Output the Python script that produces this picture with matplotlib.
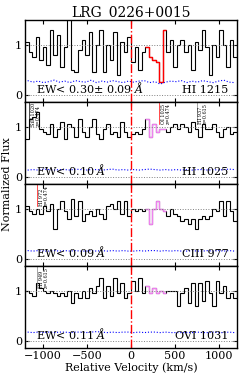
import numpy as np
import matplotlib.pyplot as plt

plt.rcParams['font.family'] = 'DejaVu Serif'
plt.rcParams['mathtext.fontset'] = 'dejavuserif'

# velocity bins (km/s)
edges = np.arange(-1200, 1201, 40)

flux_hi1215 = [1.05, 0.85, 0.75, 1.15, 0.7, 0.95, 0.6, 1.3, 0.8, 1.2,
               0.55, 0.95, 1.55, 0.5, 0.45, 0.9, 1.1, 0.8, 1.25, 0.45,
               1.0, 1.3, 0.45, 1.0, 0.7, 1.25, 0.4, 1.05, 0.85, 1.15,
               0.65, 0.95, 0.5, 0.85, 0.95, 0.75, 0.7, 0.65, 0.25, 1.3,
               0.85, 1.1, 0.55, 1.0, 1.1, 0.85, 1.0, 0.5, 1.05, 0.9,
               1.3, 0.95, 0.4, 1.0, 0.75, 1.3, 1.0, 0.55, 1.1, 0.75]
flux_hi1025 = [0.75, 1.15, 1.2, 1.3, 0.95, 0.9, 0.85, 1.05, 0.8, 0.95,
               1.1, 0.75, 1.05, 1.0, 0.8, 1.15, 0.9, 0.8, 1.0, 1.15,
               0.85, 0.75, 0.95, 1.05, 0.85, 0.9, 0.8, 1.1, 0.9, 0.8,
               0.85, 0.9, 0.85, 0.95, 1.15, 0.8, 1.05, 0.9, 0.95, 0.95,
               0.9, 1.0, 1.05, 0.95, 1.05, 1.0, 0.9, 1.1, 0.95, 0.8,
               1.05, 0.95, 0.95, 1.05, 0.9, 0.8, 0.95, 1.0, 0.85, 0.9]
flux_ciii977 = [1.05, 0.95, 0.9, 1.0, 0.9, 1.05, 0.95, 1.1, 0.6, 1.0,
                1.15, 0.95, 0.8, 1.2, 0.85, 1.15, 0.75, 0.9, 0.95, 0.85,
                1.0, 0.9, 0.8, 1.05, 1.1, 1.0, 1.15, 0.9, 1.15, 0.85,
                1.0, 0.95, 1.0, 0.95, 1.0, 0.7, 1.0, 1.15, 1.0, 0.95,
                0.85, 1.0, 0.9, 0.85, 0.75, 0.8, 0.7, 0.8, 0.6, 0.8,
                0.85, 0.8, 0.85, 1.0, 0.95, 1.15, 0.85, 1.15, 0.95, 0.75]
flux_ovi1031 = [1.0, 0.95, 0.9, 1.15, 1.05, 1.0, 0.95, 1.0, 0.95, 0.9,
                0.95, 0.9, 1.0, 0.75, 0.95, 0.85, 1.0, 0.85, 1.05, 0.95,
                1.1, 1.25, 0.85, 1.1, 0.9, 1.25, 0.95, 1.15, 0.85, 0.95,
                1.2, 1.0, 1.25, 0.95, 1.1, 0.95, 1.05, 0.95, 1.0, 0.95,
                1.0, 1.0, 1.0, 0.7, 0.95, 1.05, 0.75, 1.15, 0.7, 1.15,
                0.8, 1.2, 0.95, 0.7, 1.2, 0.95, 1.1, 0.85, 0.95, 0.85]

# error arrays on a coarser grid
err_vel = np.arange(-1170, 1200, 60)
err_hi1215 = [0.28, 0.25, 0.27, 0.24, 0.26, 0.29, 0.25, 0.27, 0.24, 0.28,
              0.26, 0.25, 0.29, 0.24, 0.27, 0.25, 0.28, 0.26, 0.24, 0.27,
              0.25, 0.27, 0.28, 0.24, 0.26, 0.21, 0.25, 0.27, 0.26, 0.28,
              0.24, 0.27, 0.25, 0.28, 0.26, 0.24, 0.27, 0.29, 0.25, 0.24]
err_hi1025 = [0.13, 0.14, 0.13, 0.15, 0.14, 0.13, 0.14, 0.14, 0.13, 0.15,
              0.14, 0.13, 0.14, 0.14, 0.13, 0.14, 0.15, 0.13, 0.14, 0.13,
              0.14, 0.13, 0.14, 0.15, 0.14, 0.13, 0.14, 0.13, 0.14, 0.13,
              0.14, 0.13, 0.14, 0.14, 0.13, 0.14, 0.13, 0.14, 0.15, 0.14]
err_ciii977 = [0.16, 0.15, 0.16, 0.15, 0.15, 0.16, 0.15, 0.16, 0.15, 0.16,
               0.15, 0.15, 0.16, 0.15, 0.16, 0.15, 0.16, 0.15, 0.16, 0.15,
               0.15, 0.16, 0.15, 0.16, 0.16, 0.15, 0.16, 0.15, 0.16, 0.15,
               0.15, 0.16, 0.15, 0.15, 0.16, 0.15, 0.16, 0.15, 0.16, 0.15]
err_ovi1031 = [0.17, 0.16, 0.17, 0.16, 0.17, 0.16, 0.17, 0.17, 0.16, 0.17,
               0.17, 0.16, 0.17, 0.18, 0.17, 0.16, 0.17, 0.16, 0.17, 0.17,
               0.16, 0.17, 0.16, 0.17, 0.17, 0.16, 0.17, 0.16, 0.16, 0.16,
               0.16, 0.16, 0.17, 0.16, 0.16, 0.17, 0.16, 0.16, 0.17, 0.16]

lines = ['HI 1215', 'HI 1025', 'CIII 977', 'OVI 1031']
ew_labels = [u'EW< 0.30\u00b1 0.09 $\\AA$', u'EW< 0.10 $\\AA$',
             u'EW< 0.09 $\\AA$', u'EW< 0.11 $\\AA$']
fluxes = [flux_hi1215, flux_hi1025, flux_ciii977, flux_ovi1031]
errors = [err_hi1215, err_hi1025, err_ciii977, err_ovi1031]
hl_colors = ['red', 'violet', 'violet', 'violet']
hl_range = (160, 400)

# contaminating lines: (panel, velocity, label, marker colour)
contam = [(1, -1150, 'SiII 1020\nz=0.474', 'black'),
          (1, 320, 'OI 1025\nz=0.474', 'red'),
          (1, 745, 'HI 937\nz=0.615', 'gray'),
          (2, -1060, 'HI 972\nz=0.474', 'red'),
          (3, -1060, 'HI 949\nz=0.615', 'gray')]

fig, axes = plt.subplots(4, 1, sharex=True, figsize=(2.49, 3.74), dpi=100)
fig.subplots_adjust(left=25/249, right=237/249, top=1-20/374,
                    bottom=1-348/374, hspace=0)

for i, ax in enumerate(axes):
    f = np.array(fluxes[i])
    ax.stairs(f, edges, color='black', lw=0.8, baseline=None)
    m = (edges[:-1] >= hl_range[0]) & (edges[:-1] < hl_range[1])
    idx = np.where(m)[0]
    ax.stairs(f[idx], edges[idx[0]:idx[-1] + 2], color=hl_colors[i],
              lw=1.0, baseline=None)
    ax.plot(err_vel, errors[i], ':', color='blue', lw=0.8)
    ax.axhline(1, color='gray', ls=':', lw=0.7)
    ax.axhline(0, color='gray', ls=':', lw=0.7)
    ax.axvline(0, color='red', ls='-.', lw=1.0)
    ax.set_xlim(-1200, 1200)
    ax.set_ylim(-0.15, 1.5)
    ax.set_yticks([0, 1])
    ax.set_xticks([-1000, -500, 0, 500, 1000])
    ax.tick_params(direction='in', top=True, right=True, labelsize=8,
                   length=3, pad=2)
    ax.text(-1070, 0.03, ew_labels[i], fontsize=8)
    ax.text(1100, 0.03, lines[i], fontsize=8, ha='right')
    for sp in ax.spines.values():
        sp.set_linewidth(1.0)

for p, v, lab, c in contam:
    ax = axes[p]
    ax.plot([v, v], [1.05, 1.5], color=c, lw=0.5)
    ax.text(v + 15, 1.48, lab, fontsize=3.5, rotation=90, va='top',
            ha='left', linespacing=1.0)

axes[0].set_title('LRG_0226+0015', fontsize=10, pad=2)
axes[-1].set_xlabel('Relative Velocity (km/s)', fontsize=8, labelpad=1)
fig.text(0.03, (374 - 184) / 374, 'Normalized Flux', rotation=90,
         va='center', ha='center', fontsize=8)

fig.savefig('out.png', dpi=100)
